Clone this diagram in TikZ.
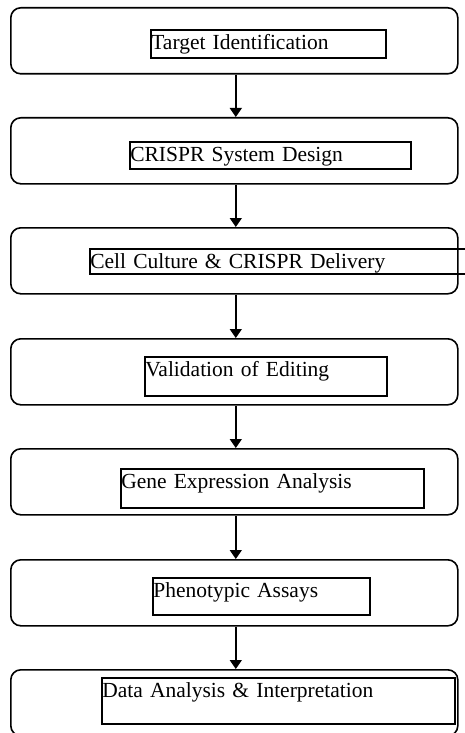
\documentclass[tikz,border=0pt]{standalone}
\usepackage{fontspec}
\setmainfont{Liberation Serif}
\usetikzlibrary{arrows.meta}
\tikzset{
  outerbox/.style={draw, line width=1.6pt, rounded corners=10pt, anchor=north west,
    minimum width=447pt, minimum height=66pt, inner sep=0pt},
  tbox/.style 2 args={draw, line width=1.6pt, anchor=north west, inner xsep=0.5pt, inner ysep=1pt,
    align=left, font=\fontsize{21.5}{24}\selectfont,
    text width=#1pt-1pt, text height=19pt, text depth=#2pt-21pt},
  flow/.style={line width=1.6pt, -{Triangle[width=12pt,length=9pt]}}
}
\begin{document}
\begin{tikzpicture}[x=1pt,y=-1pt]
\useasboundingbox (0,0) rectangle (465,733);
\node[outerbox] (o1) at (10,7) {};
\node[outerbox] (o2) at (10,117) {};
\node[outerbox] (o3) at (10,227) {};
\node[outerbox] (o4) at (10,338) {};
\node[outerbox] (o5) at (10,448) {};
\node[outerbox] (o6) at (10,559) {};
\node[outerbox] (o7) at (10,669) {};
\node[tbox={235}{28}] (t1) at (150,29) {Target Identification};
\node[tbox={281}{27}] (t2) at (129,141) {CRISPR System Design};
\node[tbox={380}{25}] (t3) at (89,248) {Cell Culture \& CRISPR Delivery};
\node[tbox={242}{39}] (t4) at (144,356) {Validation of Editing};
\node[tbox={303}{39}] (t5) at (120,468) {Gene Expression Analysis};
\node[tbox={217}{37}] (t6) at (152,577) {Phenotypic Assays};
\node[tbox={353}{46}] (t7) at (101,677) {Data Analysis \& Interpretation};
\foreach \a/\b in {o1/o2,o2/o3,o3/o4,o4/o5,o5/o6,o6/o7}
  \draw[flow] ([xshift=1.5pt]\a.south) -- ([xshift=1.5pt]\b.north);
\end{tikzpicture}
\end{document}
